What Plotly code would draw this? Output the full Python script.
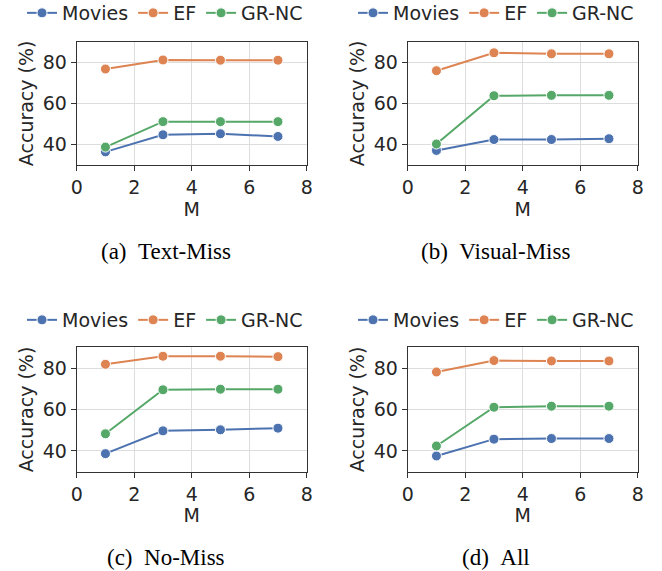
import plotly.graph_objects as go

M = [1, 3, 5, 7]
series_names = ["Movies", "EF", "GR-NC"]
colors = ["#4C72B0", "#DD8452", "#55A868"]

text_miss = {"Movies": [36.4, 44.7, 45.2, 43.9], "EF": [76.7, 81.1, 81.0, 81.0], "GR-NC": [38.7, 51.1, 51.1, 51.1]}
visual_miss = {"Movies": [37.1, 42.4, 42.4, 42.8], "EF": [75.9, 84.6, 84.1, 84.1], "GR-NC": [40.2, 63.7, 63.9, 63.9]}
no_miss = {"Movies": [38.7, 49.7, 50.2, 51.0], "EF": [81.8, 85.7, 85.7, 85.5], "GR-NC": [48.3, 69.5, 69.8, 69.8]}
all_miss = {"Movies": [37.6, 45.7, 46.0, 46.0], "EF": [78.1, 83.6, 83.4, 83.4], "GR-NC": [42.4, 61.1, 61.6, 61.6]}

panels = [text_miss, visual_miss, no_miss, all_miss]
captions = ["(a)\u00a0\u00a0Text-Miss", "(b)\u00a0\u00a0Visual-Miss", "(c)\u00a0\u00a0No-Miss", "(d)\u00a0\u00a0All"]

W, H = 662, 571
# panel geometry in pixels: (left, right, top, bottom)
boxes = [(76.7, 306.7, 41.7, 165.0), (407.7, 637.7, 41.7, 165.0),
         (76.7, 306.7, 347.3, 471.7), (407.7, 637.7, 347.3, 471.7)]
legend_pos = [(22, 13), (353, 13), (22, 320), (353, 320)]
caption_pos = [(165.5, 251), (495.5, 251), (165.5, 557), (495.5, 557)]

fig = go.Figure()
font_family = "DejaVu Sans"
txtcol = "#262626"
fs = 19

layout = dict(width=W, height=H, margin=dict(l=0, r=0, t=0, b=0, autoexpand=False),
              paper_bgcolor="white", plot_bgcolor="white",
              font=dict(family=font_family, size=fs, color=txtcol))

annotations = []
for i, (data, box) in enumerate(zip(panels, boxes)):
    idx = "" if i == 0 else str(i + 1)
    xa, ya = "x" + idx, "y" + idx
    lg = "legend" + idx
    for name, col in zip(series_names, colors):
        fig.add_trace(go.Scatter(
            x=M, y=data[name], name=name, mode="lines+markers",
            line=dict(color=col, width=2),
            marker=dict(color=col, size=10, line=dict(color="white", width=1)),
            xaxis=xa, yaxis=ya, legend=lg, showlegend=True))
    l, r, t, b = box
    axis_common = dict(showline=True, linecolor="#333333", linewidth=1, mirror=True,
                       ticks="outside", ticklen=5, tickcolor="#333333", tickwidth=1,
                       showgrid=True, gridcolor="#dddddd", gridwidth=1, zeroline=False,
                       automargin=False, tickfont=dict(size=fs, color=txtcol))
    layout["xaxis" + idx] = dict(domain=[l / W, r / W], range=[0, 8], dtick=2, tick0=0,
                                 anchor=ya, title=dict(text="M", standoff=2, font=dict(size=fs)),
                                 **axis_common)
    layout["yaxis" + idx] = dict(domain=[1 - b / H, 1 - t / H], range=[30, 90],
                                 tickvals=[40, 60, 80], anchor=xa,
                                 title=dict(text="Accuracy (%)", standoff=4, font=dict(size=fs)),
                                 **axis_common)
    lx, ly = legend_pos[i]
    layout[lg] = dict(orientation="h", x=lx / W, y=1 - ly / H, xanchor="left", yanchor="middle",
                      font=dict(size=fs, color=txtcol), bgcolor="rgba(0,0,0,0)",
                      itemclick=False, tracegroupgap=0)
    cx, cy = caption_pos[i]
    annotations.append(dict(text=captions[i], x=cx / W, y=1 - cy / H, xref="paper", yref="paper",
                            showarrow=False, xanchor="center", yanchor="middle",
                            font=dict(family="Liberation Serif", size=23, color="black")))

layout["annotations"] = annotations
fig.update_layout(**layout)
fig.write_html("out.html", config={"displayModeBar": False},
               post_script="document.body.style.margin='0';document.body.style.overflow='hidden';")
